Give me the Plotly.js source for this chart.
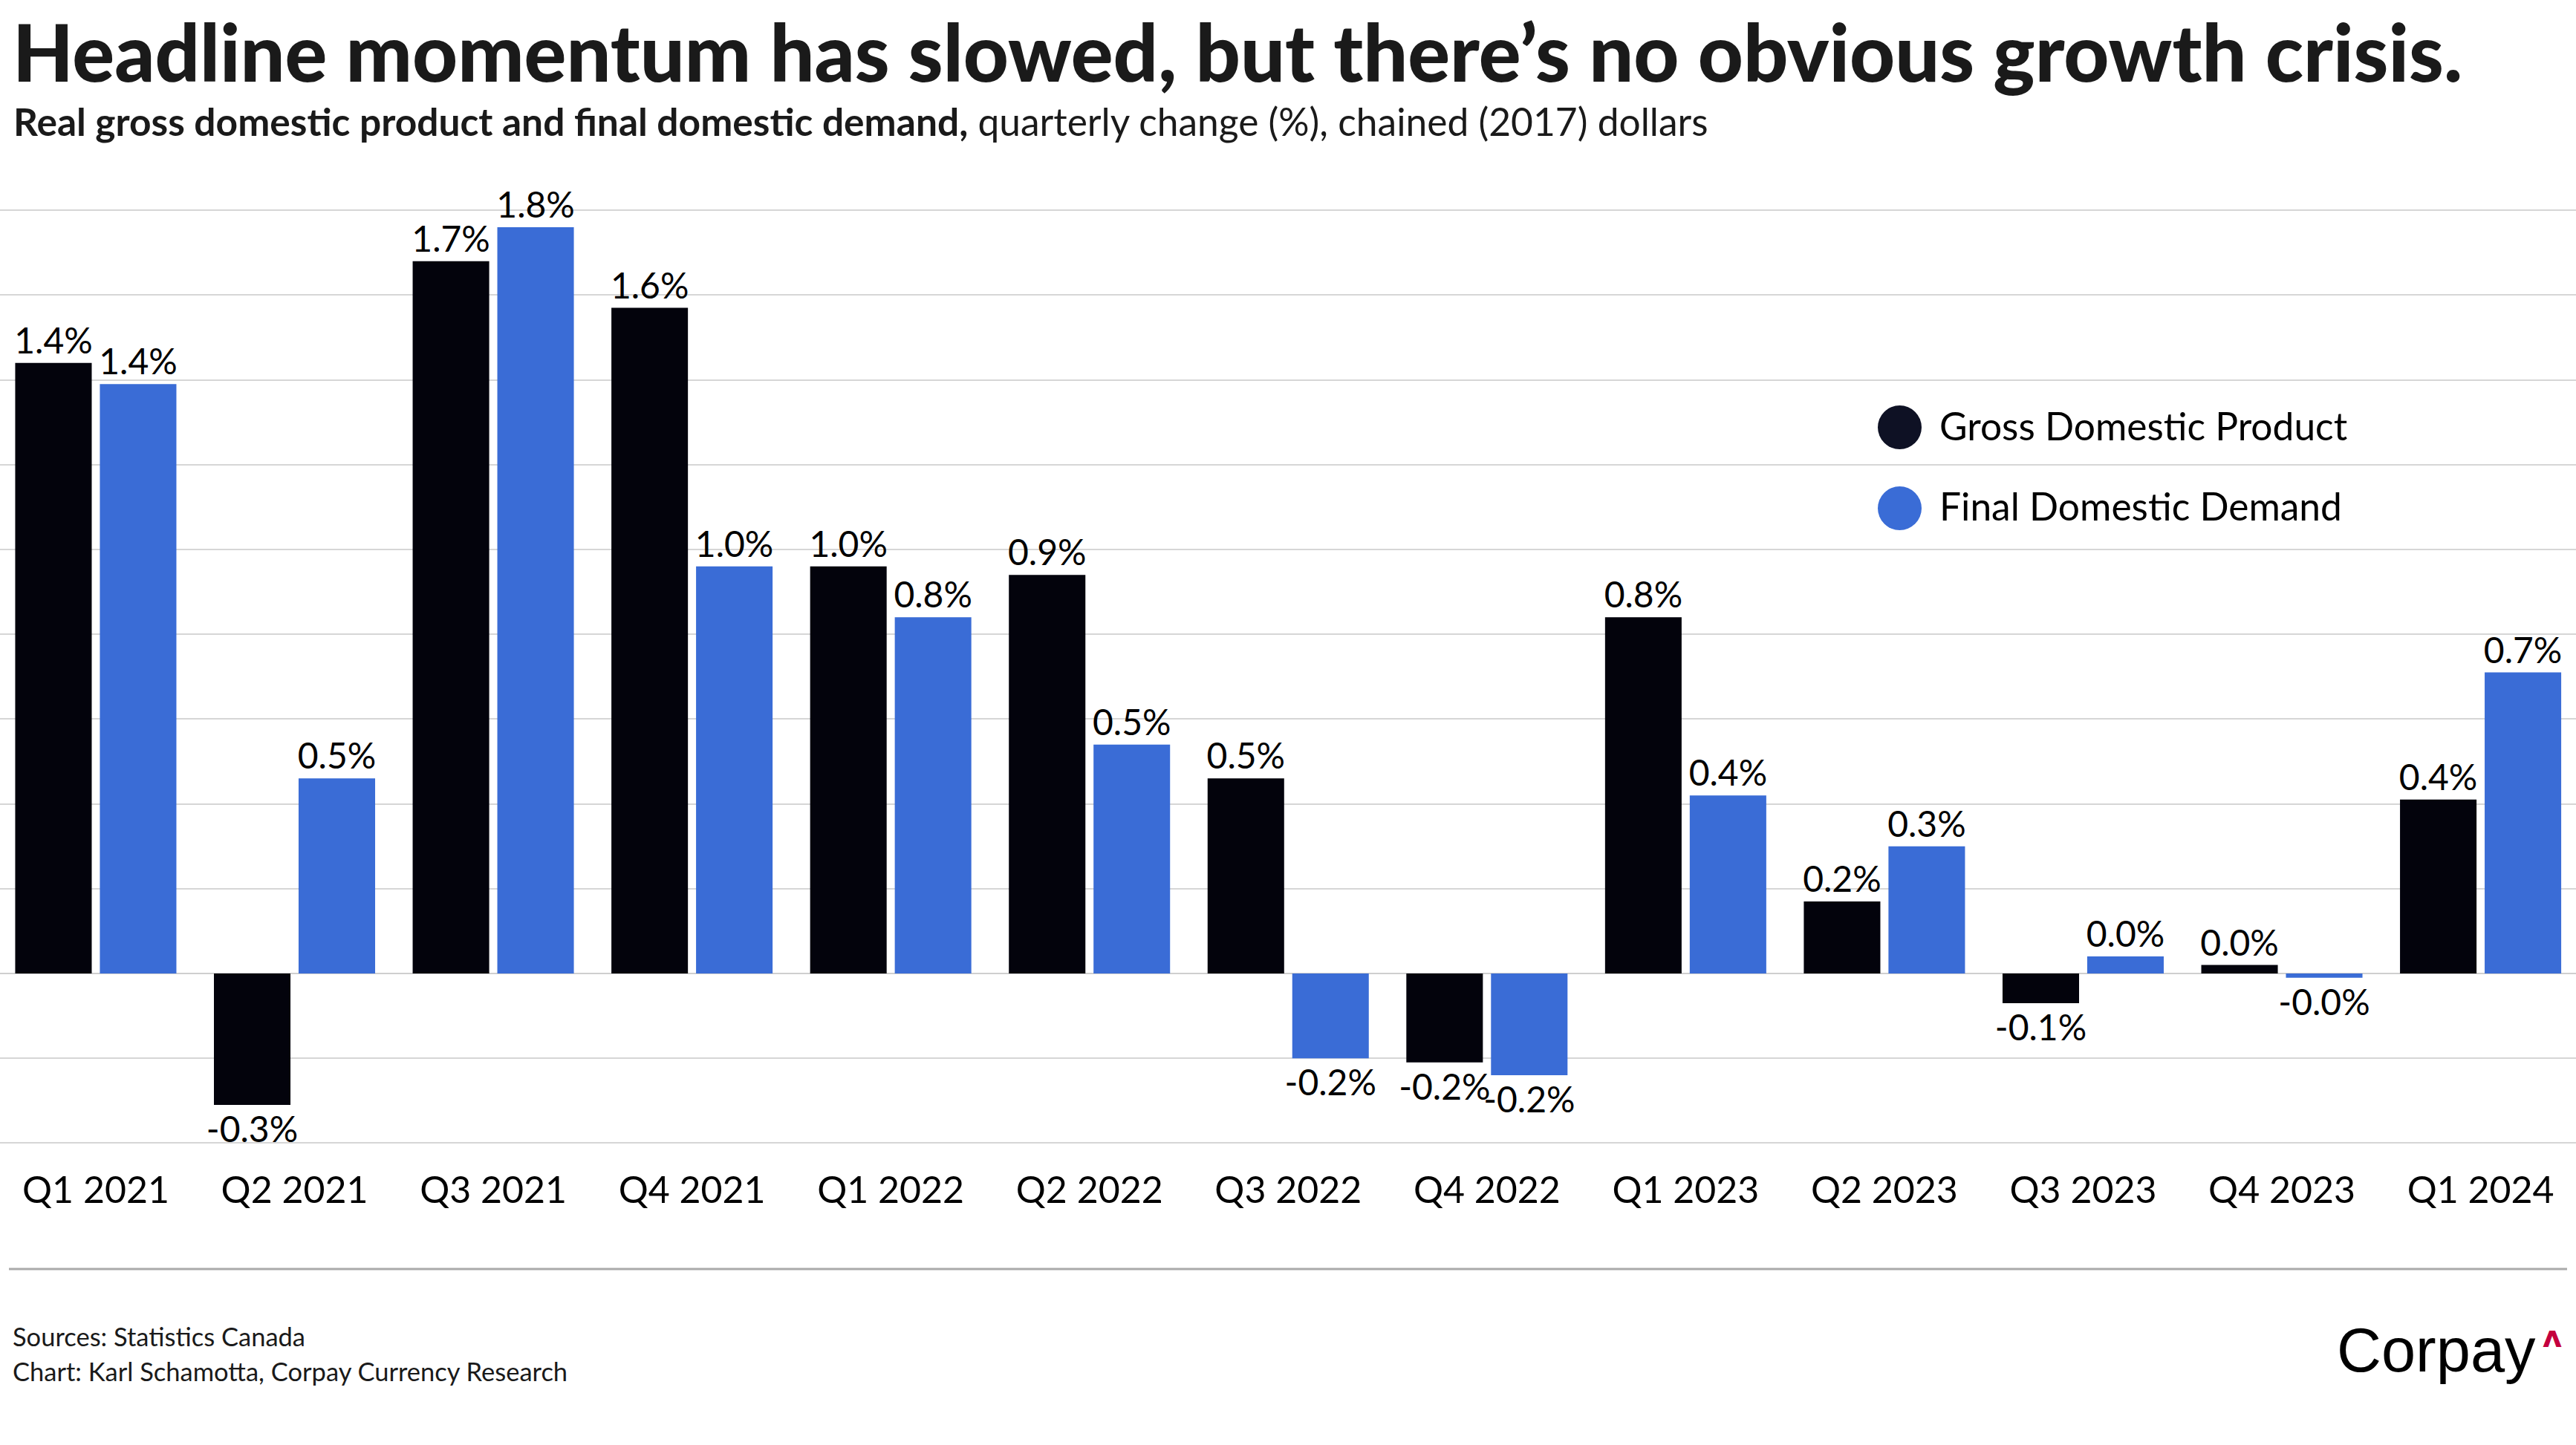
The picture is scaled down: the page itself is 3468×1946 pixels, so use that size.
<!DOCTYPE html>
<html>
<head>
<meta charset="utf-8">
<script src="https://cdn.plot.ly/plotly-3.0.1.min.js"></script>
<style>
  html, body { margin: 0; padding: 0; background: #ffffff; }
  #chart { width: 3468px; height: 1946px; }
</style>
</head>
<body>
<div id="chart"></div>
<script>
// ---- data ----
const categories = ['Q1 2021', 'Q2 2021', 'Q3 2021', 'Q4 2021', 'Q1 2022', 'Q2 2022', 'Q3 2022',
                    'Q4 2022', 'Q1 2023', 'Q2 2023', 'Q3 2023', 'Q4 2023', 'Q1 2024'];
const gdp = [1.44, -0.31, 1.68, 1.57, 0.96, 0.94, 0.46, -0.21, 0.84, 0.17, -0.07, 0.02, 0.41];
const fdd = [1.39, 0.46, 1.76, 0.96, 0.84, 0.54, -0.20, -0.24, 0.42, 0.30, 0.04, -0.01, 0.71];
const seriesNames = ['Gross Domestic Product', 'Final Domestic Demand'];

// ---- layout geometry (pixels) ----
const W = 3468, Hfig = 1946;
const T = 240, B = 1550;           // plot top / bottom
const PH = B - T;
const px = x => x / W;
const py = y => (B - y) / PH;

const FONT = 'Lato, "Open Sans", sans-serif';
const colGDP = '#03030c';
const colFDD = '#3a6cd6';

const fmt = v => v.toFixed(1) + '%';

const barCommon = {
  type: 'bar',
  x: categories,
  textposition: 'outside',
  cliponaxis: false,
  constraintext: 'none',
  textfont: { family: FONT, size: 48, color: '#000000' },
  hoverinfo: 'skip',
  showlegend: false
};

const traces = [
  Object.assign({}, barCommon, { name: seriesNames[0], y: gdp, text: gdp.map(fmt), marker: { color: colGDP } }),
  Object.assign({}, barCommon, { name: seriesNames[1], y: fdd, text: fdd.map(fmt), marker: { color: colFDD } })
];

const annotations = [
  { text: 'Headline momentum has slowed, but there’s no obvious growth crisis.',
    x: px(15), y: py(3), xanchor: 'left', yanchor: 'top',
    font: { family: FONT, size: 106, color: '#1a1a1a', weight: 900 } },
  { text: '<b>Real gross domestic product and final domestic demand,</b> quarterly change (%), chained (2017) dollars',
    x: px(16), y: py(130), xanchor: 'left', yanchor: 'top',
    font: { family: FONT, size: 51.5, color: '#1a1a1a' } },
  { text: seriesNames[0], x: px(2609), y: py(540), xanchor: 'left', yanchor: 'top',
    font: { family: FONT, size: 51.5, color: '#000000' } },
  { text: seriesNames[1], x: px(2609), y: py(648), xanchor: 'left', yanchor: 'top',
    font: { family: FONT, size: 51.5, color: '#000000' } },
  { text: 'Sources: Statistics Canada', x: px(15), y: py(1777), xanchor: 'left', yanchor: 'top',
    font: { family: FONT, size: 34.5, color: '#1a1a1a' } },
  { text: 'Chart: Karl Schamotta, Corpay Currency Research', x: px(15), y: py(1824), xanchor: 'left', yanchor: 'top',
    font: { family: FONT, size: 34.5, color: '#1a1a1a' } },
  { text: 'Corpay', x: px(3416), y: py(1770), xanchor: 'right', yanchor: 'top',
    font: { family: '"Liberation Sans", Arial, sans-serif', size: 83, color: '#000000' } },
  { text: 'ʌ', x: px(3436), y: py(1775), xanchor: 'center', yanchor: 'top',
    font: { family: '"DejaVu Sans", sans-serif', size: 40, color: '#c4003e', weight: 700 } }
].map(a => Object.assign({ xref: 'paper', yref: 'paper', showarrow: false }, a));

const shapes = [
  { type: 'circle', xref: 'paper', yref: 'paper', x0: px(2528), x1: px(2587), y0: py(546), y1: py(605),
    fillcolor: '#0e1124', line: { width: 0 } },
  { type: 'circle', xref: 'paper', yref: 'paper', x0: px(2528), x1: px(2587), y0: py(655), y1: py(714),
    fillcolor: colFDD, line: { width: 0 } },
  { type: 'line', xref: 'paper', yref: 'paper', x0: px(12), x1: px(3456), y0: py(1709), y1: py(1709),
    line: { color: '#aaaaaa', width: 3 } }
];

const layout = {
  width: W, height: Hfig,
  margin: { l: 0, r: 0, t: T, b: Hfig - B, pad: 0 },
  paper_bgcolor: '#ffffff', plot_bgcolor: '#ffffff',
  barmode: 'group', bargap: 0.148, bargroupgap: 0.096,
  showlegend: false,
  xaxis: {
    type: 'category', range: [-0.482, 12.48], fixedrange: true,
    showgrid: false, zeroline: false, showline: false, ticks: '',
    tickfont: { family: FONT, size: 50, color: '#000000' },
    ticklabelstandoff: 19
  },
  yaxis: {
    range: [-0.4187, 1.8757], fixedrange: true,
    tick0: 0, dtick: 0.2, showticklabels: false, ticks: '',
    showgrid: true, gridcolor: '#d6d6d6', gridwidth: 2,
    zeroline: true, zerolinecolor: '#cfcfcf', zerolinewidth: 2, showline: false
  },
  annotations: annotations,
  shapes: shapes,
  hovermode: false
};

Plotly.newPlot('chart', traces, layout, { staticPlot: true, displayModeBar: false });
</script>
</body>
</html>
